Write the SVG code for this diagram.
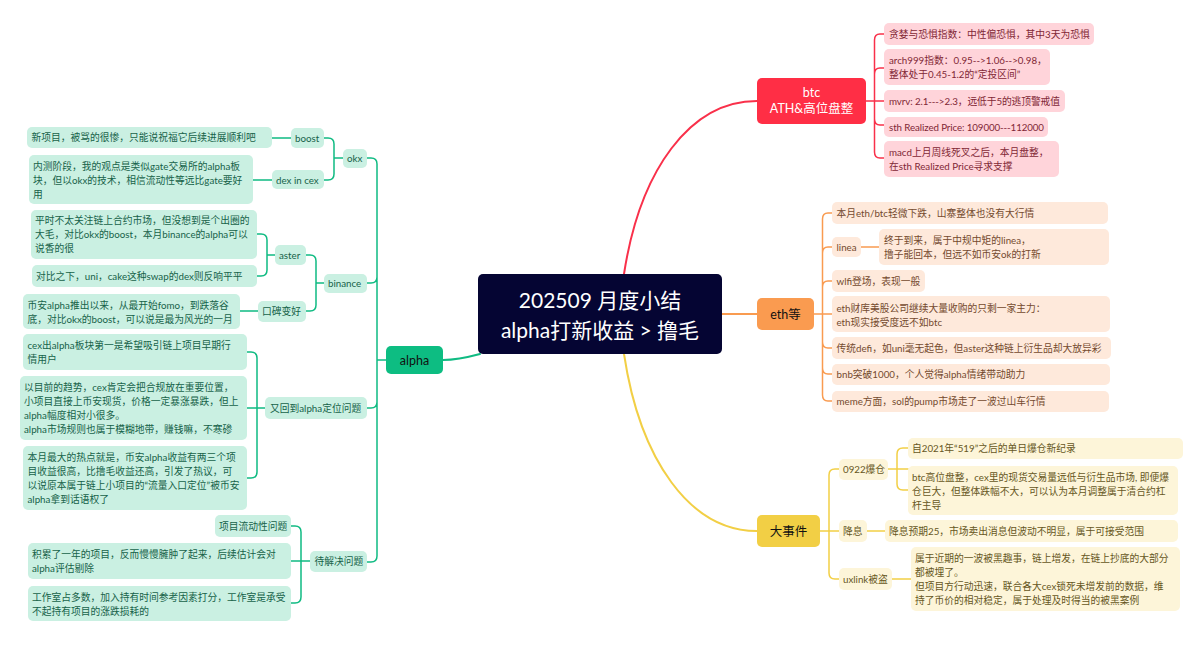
<svg xmlns="http://www.w3.org/2000/svg" width="1200" height="649" viewBox="0 0 1200 649">
<style>
text{font-family:Lato,"Noto Sans CJK SC",sans-serif;font-size:9.75px}
.c{fill:none;stroke-width:1.5;stroke-linecap:round}
.main{stroke-width:2}
.r{stroke:#f9304a}.o{stroke:#f99b50}.y{stroke:#f2cf45}.g{stroke:#0fbb82}
.lr rect{fill:#ffd4da}.lr text{fill:#7f2735}
.lo rect{fill:#fee9db}.lo text{fill:#74492e}
.ly rect{fill:#fdf5d9}.ly text{fill:#665723}
.lg rect{fill:#caf0e2}.lg text{fill:#166249}
.m text{font-size:12.5px;text-anchor:middle}
.m2 text{font-size:12.5px;text-anchor:middle;fill:#111}
.mid{font-size:21px;fill:#fff;text-anchor:middle}
</style>
<rect width="1200" height="649" fill="#fff"/>
<g id="connectors">
<path class="c main r" d="M624 274C640 170 690 101 757 101"/>
<path class="c main o" d="M722 314H757"/>
<path class="c main y" d="M624 354C640 460 690 531 757 531"/>
<path class="c main g" d="M480 354C465 358 455 360 443 360"/>
<path class="c r" d="M866 101H884M884 34H880Q874.500 34 874.500 40V152Q874.500 158 880 158H884M874.500 74Q874.500 68 880 68H884M874.500 119Q874.500 125 880 125H884"/>
<path class="c o" d="M814 314H832M832 213H828Q822.500 213 822.500 219V395Q822.500 401 828 401H832M822.500 253Q822.500 247 828 247H832M822.500 287Q822.500 281 828 281H832M822.500 342Q822.500 348 828 348H832M822.500 368Q822.500 374 828 374H832M861 247H879"/>
<path class="c y" d="M820 531H839M839 469H835Q829 469 829 475V573Q829 579 835 579H839M888 469H908M908 448H903Q897 448 897 454V484Q897 490 903 490H908M867 531H885M892 579H911"/>
<path class="c g" d="M386 360H377M367 158H371Q377 158 377 164V556Q377 562 371 562H367M377 277Q377 283 371 283H367M377 402Q377 408 371 408H367"/>
<path class="c g" d="M343 158H334M324 138H328Q334 138 334 144V174Q334 180 328 180H324M272 138H291M253 180H272"/>
<path class="c g" d="M324 283H316M306 255H310Q316 255 316 261V305Q316 311 310 311H306M275 255H267M257 234H261Q267 234 267 240V270Q267 276 261 276H257M240 311H258"/>
<path class="c g" d="M265 408H247M247 352H251Q257 352 257 358V472Q257 478 251 478H247"/>
<path class="c g" d="M310 561H291M291 526H295Q301 526 301 532V597Q301 603 295 603H291"/>
</g>
<g id="root"><rect x="478" y="274" width="244" height="80" rx="5" fill="#050533"/><text class="mid" x="600" y="308">202509 月度小结</text><text class="mid" x="600" y="338">alpha打新收益 &gt; 撸毛</text></g>
<g id="btc" class="m"><rect x="757" y="78" width="109" height="46" rx="5" fill="#ff2e45"/><text x="811.500" y="97" fill="#fff">btc</text><text x="811.500" y="113" fill="#fff">ATH&amp;高位盘整</text></g>
<g id="eth" class="m2"><rect x="757" y="298" width="57" height="32" rx="5" fill="#fa9b50"/><text x="785.500" y="319">eth等</text></g>
<g id="events" class="m2"><rect x="757" y="515" width="63" height="32" rx="5" fill="#f2cf45"/><text x="788.500" y="536">大事件</text></g>
<g id="alpha" class="m2"><rect x="386" y="346" width="57" height="28" rx="5" fill="#0dbd82"/><text x="414.500" y="365">alpha</text></g>
<g id="b1" class="lr"><rect x="884" y="23" width="210" height="22" rx="5"/><text x="889" y="37.500">贪婪与恐惧指数：中性偏恐惧，其中3天为恐惧</text></g>
<g id="b2" class="lr"><rect x="884" y="49" width="166" height="36" rx="5"/><text x="889" y="64">arch999指数：0.95--&gt;1.06--&gt;0.98，</text><text x="889" y="78">整体处于0.45-1.2的“定投区间”</text></g>
<g id="b3" class="lr"><rect x="884" y="90" width="181" height="22" rx="5"/><text x="889" y="104.500" textLength="171">mvrv: 2.1---&gt;2.3，远低于5的逃顶警戒值</text></g>
<g id="b4" class="lr"><rect x="884" y="117" width="164" height="20" rx="5"/><text x="889" y="130.500" textLength="155">sth Realized Price: 109000---112000</text></g>
<g id="b5" class="lr"><rect x="884" y="141" width="175" height="36" rx="5"/><text x="889" y="156">macd上月周线死叉之后，本月盘整，</text><text x="889" y="170">在sth Realized Price寻求支撑</text></g>
<g id="e1" class="lo"><rect x="832" y="202" width="276" height="22" rx="5"/><text x="836.500" y="217">本月eth/btc轻微下跌，山寨整体也没有大行情</text></g>
<g id="e2" class="lo"><rect x="832" y="237" width="29" height="20" rx="5"/><text x="836.500" y="251">linea</text></g>
<g id="e2a" class="lo"><rect x="879" y="229" width="230" height="36" rx="5"/><text x="884" y="243.500">终于到来，属于中规中矩的linea，</text><text x="884" y="257.500">撸子能回本，但远不如币安ok的打新</text></g>
<g id="e3" class="lo"><rect x="832" y="270" width="93" height="22" rx="5"/><text x="836.500" y="284.500">wlfi登场，表现一般</text></g>
<g id="e4" class="lo"><rect x="832" y="296" width="278" height="36" rx="5"/><text x="836.500" y="311.500">eth财库美股公司继续大量收购的只剩一家主力：</text><text x="836.500" y="325.500">eth现实接受度远不如btc</text></g>
<g id="e5" class="lo"><rect x="832" y="337" width="279" height="22" rx="5"/><text x="836.500" y="351.500">传统defi，如uni毫无起色，但aster这种链上衍生品却大放异彩</text></g>
<g id="e6" class="lo"><rect x="832" y="364" width="278" height="21" rx="5"/><text x="836.500" y="378">bnb突破1000，个人觉得alpha情绪带动助力</text></g>
<g id="e7" class="lo"><rect x="832" y="391" width="277" height="21" rx="5"/><text x="836.500" y="405">meme方面，sol的pump市场走了一波过山车行情</text></g>
<g id="v1" class="ly"><rect x="839" y="459" width="49" height="21" rx="5"/><text x="843" y="473">0922爆仓</text></g>
<g id="v1a" class="ly"><rect x="908" y="438" width="275" height="21" rx="5"/><text x="912" y="452">自2021年“519”之后的单日爆仓新纪录</text></g>
<g id="v1b" class="ly"><rect x="908" y="466" width="270" height="49" rx="5"/><text x="912" y="480.500">btc高位盘整，cex里的现货交易量远低与衍生品市场, 即便爆</text><text x="912" y="494.500">仓巨大，但整体跌幅不大，可以认为本月调整属于清合约杠</text><text x="912" y="508.500">杆主导</text></g>
<g id="v2" class="ly"><rect x="839" y="520" width="28" height="22" rx="5"/><text x="843" y="534.500">降息</text></g>
<g id="v2a" class="ly"><rect x="885" y="520" width="293" height="22" rx="5"/><text x="889" y="534.500">降息预期25，市场卖出消息但波动不明显，属于可接受范围</text></g>
<g id="v3" class="ly"><rect x="839" y="568" width="53" height="22" rx="5"/><text x="843" y="582.500">uxlink被盗</text></g>
<g id="v3a" class="ly"><rect x="911" y="547" width="269" height="64" rx="5"/><text x="915" y="561.500">属于近期的一波被黑趣事，链上增发，在链上抄底的大部分</text><text x="915" y="575.500">都被埋了。</text><text x="915" y="589.500">但项目方行动迅速，联合各大cex锁死未增发前的数据，维</text><text x="915" y="603.500">持了币价的相对稳定，属于处理及时得当的被黑案例</text></g>
<g id="okx" class="lg"><rect x="343" y="149" width="24" height="19" rx="5"/><text x="347" y="162">okx</text></g>
<g id="boost" class="lg"><rect x="291" y="128" width="33" height="20" rx="5"/><text x="295" y="141.500">boost</text></g>
<g id="a1" class="lg"><rect x="27" y="127" width="245" height="21" rx="5"/><text x="31.500" y="141">新项目，被骂的很惨，只能说祝福它后续进展顺利吧</text></g>
<g id="dex" class="lg"><rect x="272" y="170" width="52" height="19" rx="5"/><text x="276" y="183.500">dex in cex</text></g>
<g id="a2" class="lg"><rect x="29" y="155" width="224" height="49" rx="5"/><text x="33" y="169.500">内测阶段，我的观点是类似gate交易所的alpha板</text><text x="33" y="183.500">块，但以okx的技术，相信流动性等远比gate要好</text><text x="33" y="197.500">用</text></g>
<g id="binance" class="lg"><rect x="324" y="274" width="43" height="19" rx="5"/><text x="328" y="287">binance</text></g>
<g id="aster" class="lg"><rect x="275" y="245" width="31" height="20" rx="5"/><text x="279" y="259">aster</text></g>
<g id="a3" class="lg"><rect x="31" y="210" width="226" height="49" rx="5"/><text x="35" y="223.500">平时不太关注链上合约市场，但没想到是个出圈的</text><text x="35" y="237.500">大毛，对比okx的boost，本月binance的alpha可以</text><text x="35" y="251.500">说香的很</text></g>
<g id="a4" class="lg"><rect x="32" y="265" width="225" height="22" rx="5"/><text x="36" y="280">对比之下，uni，cake这种swap的dex则反响平平</text></g>
<g id="kb" class="lg"><rect x="258" y="301" width="48" height="21" rx="5"/><text x="262" y="315">口碑变好</text></g>
<g id="a5" class="lg"><rect x="23" y="294" width="217" height="35" rx="5"/><text x="27.500" y="308.500">币安alpha推出以来，从最开始fomo，到跌落谷</text><text x="27.500" y="322.500">底，对比okx的boost，可以说是最为风光的一月</text></g>
<g id="pos" class="lg"><rect x="265" y="397" width="102" height="22" rx="5"/><text x="270" y="411.500">又回到alpha定位问题</text></g>
<g id="a6" class="lg"><rect x="23" y="334" width="224" height="36" rx="5"/><text x="27.500" y="348.500">cex出alpha板块第一是希望吸引链上项目早期行</text><text x="27.500" y="362.500">情用户</text></g>
<g id="a7" class="lg"><rect x="20" y="376" width="227" height="64" rx="5"/><text x="24" y="390.500">以目前的趋势，cex肯定会把合规放在重要位置，</text><text x="24" y="404.500">小项目直接上币安现货，价格一定暴涨暴跌，但上</text><text x="24" y="418.500">alpha幅度相对小很多。</text><text x="24" y="432.500">alpha市场规则也属于模糊地带，赚钱嘛，不寒碜</text></g>
<g id="a8" class="lg"><rect x="23" y="446" width="224" height="64" rx="5"/><text x="27.500" y="460.500">本月最大的热点就是，币安alpha收益有两三个项</text><text x="27.500" y="474.500">目收益很高，比撸毛收益还高，引发了热议，可</text><text x="27.500" y="488.500">以说原本属于链上小项目的“流量入口定位”被币安</text><text x="27.500" y="502.500">alpha拿到话语权了</text></g>
<g id="todo" class="lg"><rect x="310" y="551" width="57" height="21" rx="5"/><text x="314.500" y="565">待解决问题</text></g>
<g id="a9" class="lg"><rect x="215" y="515" width="76" height="22" rx="5"/><text x="219" y="529.500">项目流动性问题</text></g>
<g id="a10" class="lg"><rect x="28" y="543" width="263" height="36" rx="5"/><text x="32" y="557.500">积累了一年的项目，反而慢慢臃肿了起来，后续估计会对</text><text x="32" y="571.500">alpha评估剔除</text></g>
<g id="a11" class="lg"><rect x="28" y="586" width="263" height="35" rx="5"/><text x="32" y="600.500">工作室占多数，加入持有时间参考因素打分，工作室是承受</text><text x="32" y="614.500">不起持有项目的涨跌损耗的</text></g>
</svg>
